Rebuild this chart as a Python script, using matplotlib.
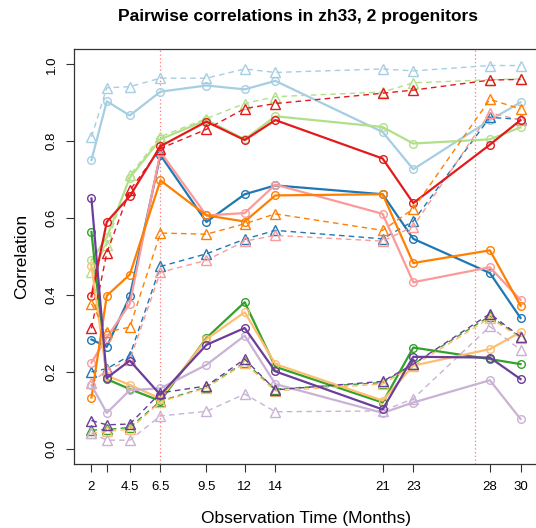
import numpy as np
import matplotlib.pyplot as plt

plt.rcParams['font.family'] = ['Liberation Sans', 'DejaVu Sans']

months = [2, 3, 4.5, 6.5, 9.5, 12, 14, 21, 23, 28, 30]
tick_labels = ['2', '', '4.5', '6.5', '9.5', '12', '14', '21', '23', '28', '30']
marker_months = [6.5, 27]

# correlations: solid = circles, dashed = triangles
lblue_solid = [0.751, 0.904, 0.867, 0.929, 0.945, 0.935, 0.957, 0.824, 0.727, 0.855, 0.901]
lblue_dash = [0.811, 0.939, 0.942, 0.964, 0.964, 0.988, 0.979, 0.988, 0.983, 0.997, 0.997]
blue_solid = [0.284, 0.265, 0.396, 0.764, 0.590, 0.662, 0.685, 0.662, 0.546, 0.457, 0.340]
blue_dash = [0.200, 0.208, 0.242, 0.474, 0.507, 0.545, 0.568, 0.546, 0.592, 0.862, 0.857]
lgreen_solid = [0.490, 0.550, 0.705, 0.805, 0.855, 0.805, 0.865, 0.837, 0.794, 0.805, 0.836]
lgreen_dash = [0.460, 0.531, 0.711, 0.812, 0.859, 0.898, 0.916, 0.928, 0.952, 0.960, 0.962]
green_solid = [0.564, 0.181, 0.155, 0.124, 0.288, 0.381, 0.213, 0.120, 0.263, 0.233, 0.220]
green_dash = [0.048, 0.050, 0.055, 0.124, 0.160, 0.225, 0.155, 0.172, 0.220, 0.345, 0.290]
pink_solid = [0.224, 0.289, 0.377, 0.772, 0.607, 0.613, 0.687, 0.611, 0.433, 0.472, 0.387]
pink_dash = [0.170, 0.205, 0.230, 0.459, 0.490, 0.540, 0.555, 0.540, 0.578, 0.874, 0.855]
red_solid = [0.396, 0.590, 0.657, 0.787, 0.851, 0.803, 0.855, 0.755, 0.639, 0.791, 0.855]
red_dash = [0.313, 0.509, 0.672, 0.781, 0.831, 0.885, 0.898, 0.925, 0.933, 0.959, 0.961]
lorange_solid = [0.476, 0.190, 0.166, 0.130, 0.285, 0.355, 0.220, 0.125, 0.216, 0.259, 0.303]
lorange_dash = [0.040, 0.045, 0.050, 0.122, 0.158, 0.222, 0.150, 0.168, 0.215, 0.340, 0.288]
orange_solid = [0.133, 0.398, 0.453, 0.698, 0.607, 0.591, 0.659, 0.662, 0.483, 0.516, 0.372]
orange_dash = [0.377, 0.304, 0.316, 0.561, 0.558, 0.585, 0.611, 0.568, 0.624, 0.909, 0.884]
lpurple_solid = [0.165, 0.093, 0.152, 0.157, 0.218, 0.294, 0.168, 0.093, 0.120, 0.178, 0.077]
lpurple_dash = [0.040, 0.022, 0.022, 0.085, 0.097, 0.142, 0.096, 0.098, 0.130, 0.318, 0.257]
purple_solid = [0.651, 0.184, 0.229, 0.140, 0.270, 0.314, 0.201, 0.102, 0.239, 0.237, 0.181]
purple_dash = [0.073, 0.062, 0.064, 0.145, 0.163, 0.233, 0.153, 0.175, 0.220, 0.351, 0.291]

# Paired palette
series = [
    ('#A6CEE3', lblue_solid, lblue_dash),
    ('#1F78B4', blue_solid, blue_dash),
    ('#B2DF8A', lgreen_solid, lgreen_dash),
    ('#33A02C', green_solid, green_dash),
    ('#FB9A99', pink_solid, pink_dash),
    ('#E31A1C', red_solid, red_dash),
    ('#FDBF6F', lorange_solid, lorange_dash),
    ('#FF7F00', orange_solid, orange_dash),
    ('#CAB2D6', lpurple_solid, lpurple_dash),
    ('#6A3D9A', purple_solid, purple_dash),
]

W, H = 536, 528
fig = plt.figure(figsize=(W / 100, H / 100), dpi=100)
ax = fig.add_axes([74.3 / W, 1 - 464 / H, (537.7 - 74.3) / W, (464 - 49) / H])

for m in marker_months:
    ax.axvline(m, color='#FF5555', linestyle=(0, (1, 2)), lw=0.9, alpha=0.8)

for color, solid, dash in series:
    ax.plot(months, dash, color=color, lw=1.0, linestyle=(0, (4, 3)),
            marker='^', markersize=6.5, markerfacecolor='none',
            markeredgecolor=color, markeredgewidth=1.0)
    ax.plot(months, solid, color=color, lw=1.6, linestyle='-',
            marker='o', markersize=5.5, markerfacecolor='none',
            markeredgecolor=color, markeredgewidth=1.0)

ax.set_xlim(0.88, 31.12)
ax.set_ylim(-0.04, 1.04)
ax.set_xticks(months)
ax.set_xticklabels(tick_labels, fontsize=9.5)
ax.set_yticks([0, 0.2, 0.4, 0.6, 0.8, 1.0])
ax.set_yticklabels(['0.0', '0.2', '0.4', '0.6', '0.8', '1.0'], fontsize=9.5,
                   rotation=90, va='center')
ax.tick_params(direction='out', length=6, width=0.8, color='#333333', pad=6)
for s in ax.spines.values():
    s.set_linewidth(0.9)
    s.set_color('#333333')

ax.set_xlabel('Observation Time (Months)', fontsize=12.5, labelpad=13)
ax.set_ylabel('Correlation', fontsize=12.5, labelpad=12)
fig.text(298 / W, 1 - 16 / H, 'Pairwise correlations in zh33, 2 progenitors',
         ha='center', va='center', fontsize=12.5, fontweight='bold')

fig.savefig('out.png', dpi=100)
